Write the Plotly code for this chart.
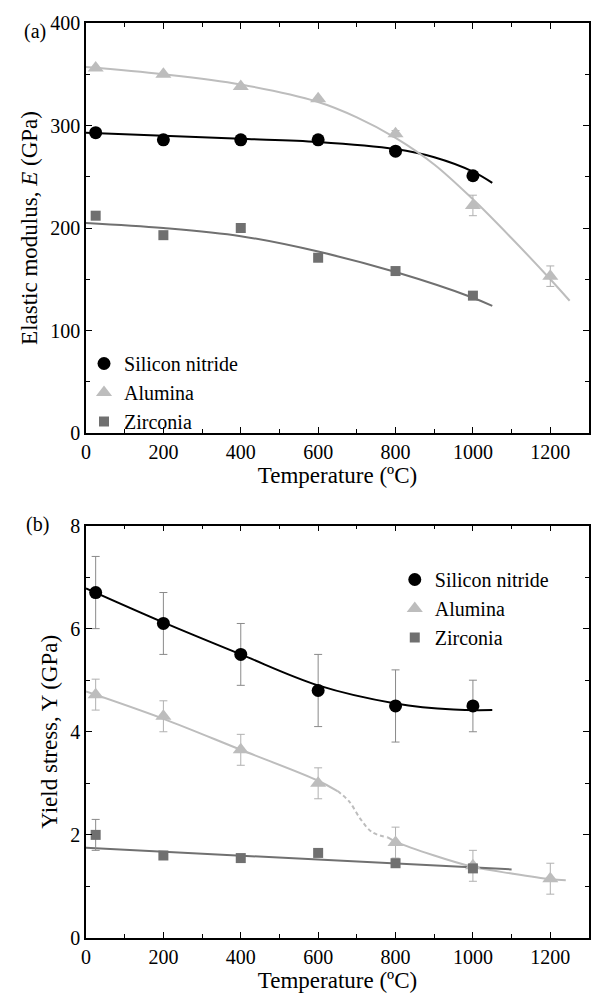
import plotly.graph_objects as go

# ---------------- Data ----------------
temp = [25, 200, 400, 600, 800, 1000]
temp_al = [25, 200, 400, 600, 800, 1000, 1200]

# (a) Elastic modulus, GPa
E_sin = [293, 286, 286, 286, 275, 251]
E_sin_err = [0, 0, 0, 4, 0, 3]
E_al = [356, 350, 338, 326, 292, 222, 153]
E_al_err = [0, 0, 0, 0, 3, 10, 10]
E_zr = [212, 193, 200, 171, 158, 134]
E_zr_err = [0, 0, 0, 0, 0, 3]

# fitted curves (a)
fitT_sin = [0, 200, 400, 600, 800, 900, 1000, 1050]
fitE_sin = [293, 290, 287, 284, 277, 269, 255, 244]
fitT_al = [0, 200, 400, 600, 700, 800, 900, 1000, 1100, 1200, 1250]
fitE_al = [357, 350, 340, 323, 308, 288, 262, 228, 190, 150, 129]
fitT_zr = [0, 200, 400, 600, 800, 1000, 1050]
fitE_zr = [205, 200, 192, 177, 157, 132, 124]

# (b) Yield stress, GPa
Y_sin = [6.7, 6.1, 5.5, 4.8, 4.5, 4.5]
Y_sin_err = [0.7, 0.6, 0.6, 0.7, 0.7, 0.5]
Y_al = [4.72, 4.3, 3.65, 3.0, 1.85, 1.4, 1.15]
Y_al_err = [0.3, 0.3, 0.3, 0.3, 0.3, 0.3, 0.3]
Y_zr = [2.0, 1.6, 1.55, 1.65, 1.45, 1.35]
Y_zr_err = [0.3, 0.05, 0.05, 0.05, 0.05, 0.05]

fitT_sin_b = [0, 200, 400, 600, 800, 950, 1050]
fitY_sin_b = [6.78, 6.12, 5.5, 4.9, 4.55, 4.43, 4.42]
fitT_al_b1 = [0, 200, 400, 600, 650]
fitY_al_b1 = [4.78, 4.25, 3.65, 3.05, 2.85]
fitT_al_b2 = [650, 680, 710, 740, 780]
fitY_al_b2 = [2.85, 2.65, 2.3, 2.05, 1.95]
fitT_al_b3 = [780, 800, 900, 1000, 1100, 1200, 1240]
fitY_al_b3 = [1.95, 1.87, 1.6, 1.38, 1.25, 1.14, 1.12]
fitT_zr_b = [0, 1100]
fitY_zr_b = [1.75, 1.33]

names = ["Silicon nitride", "Alumina", "Zirconia"]

# ---------------- Styles ----------------
C_SIN = "#000000"
C_AL = "#bdbdbd"
C_ZR = "#707070"
C_ERR = "#8a8a8a"
FONT = "Times New Roman, Liberation Serif, serif"

fig = go.Figure()


def err(vals, color=C_ERR):
    return dict(type="data", array=vals, visible=True, color=color, thickness=1, width=4)


# --- panel (a) curves
fig.add_trace(go.Scatter(x=fitT_sin, y=fitE_sin, mode="lines", line=dict(color=C_SIN, width=2, shape="spline"),
                         showlegend=False, xaxis="x", yaxis="y"))
fig.add_trace(go.Scatter(x=fitT_al, y=fitE_al, mode="lines", line=dict(color=C_AL, width=2, shape="spline"),
                         showlegend=False, xaxis="x", yaxis="y"))
fig.add_trace(go.Scatter(x=fitT_zr, y=fitE_zr, mode="lines", line=dict(color=C_ZR, width=2, shape="spline"),
                         showlegend=False, xaxis="x", yaxis="y"))
# --- panel (a) points
fig.add_trace(go.Scatter(x=temp, y=E_sin, mode="markers", name=names[0], error_y=err(E_sin_err),
                         marker=dict(symbol="circle", size=13, color=C_SIN), legend="legend", xaxis="x", yaxis="y"))
fig.add_trace(go.Scatter(x=temp_al, y=E_al, mode="markers", name=names[1], error_y=err(E_al_err, "#b0b0b0"),
                         marker=dict(symbol="triangle-up", size=14, color=C_AL), legend="legend", xaxis="x", yaxis="y"))
fig.add_trace(go.Scatter(x=temp, y=E_zr, mode="markers", name=names[2], error_y=err(E_zr_err),
                         marker=dict(symbol="square", size=10, color=C_ZR), legend="legend", xaxis="x", yaxis="y"))

# --- panel (b) curves
fig.add_trace(go.Scatter(x=fitT_sin_b, y=fitY_sin_b, mode="lines", line=dict(color=C_SIN, width=2, shape="spline"),
                         showlegend=False, xaxis="x2", yaxis="y2"))
fig.add_trace(go.Scatter(x=fitT_al_b1, y=fitY_al_b1, mode="lines", line=dict(color=C_AL, width=2, shape="spline"),
                         showlegend=False, xaxis="x2", yaxis="y2"))
fig.add_trace(go.Scatter(x=fitT_al_b2, y=fitY_al_b2, mode="lines",
                         line=dict(color=C_AL, width=2, shape="spline", dash="4px,3px"),
                         showlegend=False, xaxis="x2", yaxis="y2"))
fig.add_trace(go.Scatter(x=fitT_al_b3, y=fitY_al_b3, mode="lines", line=dict(color=C_AL, width=2, shape="spline"),
                         showlegend=False, xaxis="x2", yaxis="y2"))
fig.add_trace(go.Scatter(x=fitT_zr_b, y=fitY_zr_b, mode="lines", line=dict(color=C_ZR, width=2),
                         showlegend=False, xaxis="x2", yaxis="y2"))
# --- panel (b) points
fig.add_trace(go.Scatter(x=temp, y=Y_sin, mode="markers", name=names[0], error_y=err(Y_sin_err),
                         marker=dict(symbol="circle", size=13, color=C_SIN), legend="legend2", xaxis="x2", yaxis="y2"))
fig.add_trace(go.Scatter(x=temp_al, y=Y_al, mode="markers", name=names[1], error_y=err(Y_al_err, "#b0b0b0"),
                         marker=dict(symbol="triangle-up", size=14, color=C_AL), legend="legend2", xaxis="x2", yaxis="y2"))
fig.add_trace(go.Scatter(x=temp, y=Y_zr, mode="markers", name=names[2], error_y=err(Y_zr_err),
                         marker=dict(symbol="square", size=10, color=C_ZR), legend="legend2", xaxis="x2", yaxis="y2"))

axis_common = dict(showline=True, linecolor="black", linewidth=1.5, mirror="allticks", ticks="inside",
                   ticklen=6, tickwidth=1.2, tickcolor="black", showgrid=False, zeroline=False,
                   tickfont=dict(family=FONT, size=20, color="black"))
minor = dict(ticks="inside", ticklen=4, tickwidth=1.2, tickcolor="black", showgrid=False)

plot_w = 598 - 86 - 7
plot_h = 1002 - 23 - 64
bottom_px = 1002 - 64


def py(px):
    return (bottom_px - px) / plot_h


def pxx(px):
    return (px - 86) / plot_w


fig.update_layout(
    width=598, height=1002,
    margin=dict(l=86, r=7, t=23, b=64),
    paper_bgcolor="white", plot_bgcolor="white",
    font=dict(family=FONT, color="black"),
    xaxis=dict(axis_common, range=[0, 1300], dtick=200, tick0=0, anchor="y",
               minor=dict(minor, dtick=100),
               title=dict(text="Temperature (ºC)", font=dict(family=FONT, size=23), standoff=3)),
    yaxis=dict(axis_common, range=[0, 400], dtick=100, tick0=0, domain=[py(433), 1], anchor="x",
               minor=dict(minor, dtick=50),
               title=dict(text="Elastic modulus, <i>E</i> (GPa)", font=dict(family=FONT, size=23), standoff=6)),
    xaxis2=dict(axis_common, range=[0, 1300], dtick=200, tick0=0, anchor="y2",
                minor=dict(minor, dtick=100),
                title=dict(text="Temperature (ºC)", font=dict(family=FONT, size=23), standoff=3)),
    yaxis2=dict(axis_common, range=[0, 8], dtick=2, tick0=0, domain=[0, py(525.5)], anchor="x2",
                minor=dict(minor, dtick=1),
                title=dict(text="Yield stress, Y (GPa)", font=dict(family=FONT, size=23), standoff=6)),
    legend=dict(x=pxx(84), y=py(344), xanchor="left", yanchor="top", bgcolor="rgba(0,0,0,0)",
                font=dict(family=FONT, size=20), itemsizing="trace", tracegroupgap=0),
    legend2=dict(x=pxx(396), y=py(560), xanchor="left", yanchor="top", bgcolor="rgba(0,0,0,0)",
                 font=dict(family=FONT, size=20), itemsizing="trace", tracegroupgap=0),
    annotations=[
        dict(text="(a)", x=pxx(22), y=py(18), xref="paper", yref="paper", showarrow=False,
             font=dict(family=FONT, size=20)),
        dict(text="(b)", x=pxx(24), y=py(524), xref="paper", yref="paper", showarrow=False,
             font=dict(family=FONT, size=20)),
    ],
)

fig.write_html("out.html")
